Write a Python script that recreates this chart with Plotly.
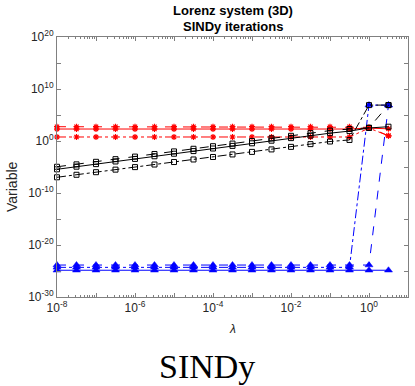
import plotly.graph_objects as go

# regularisation parameter lambda (x axis)
lam = [1e-8, 3.16e-8, 1e-7, 3.16e-7, 1e-6, 3.16e-6, 1e-5, 3.16e-5, 1e-4,
       3.16e-4, 1e-3, 3.16e-3, 1e-2, 3.16e-2, 1e-1, 3.16e-1, 1.0, 3.16]

# red series (asterisks)
red_dash = [560, 560, 560, 560, 560, 560, 560, 560, 560,
            560, 560, 560, 560, 560, 560, 560, 430, 10]
red_solid = [200, 200, 200, 200, 200, 200, 200, 200, 200,
             200, 200, 200, 200, 200, 200, 200, 300, 220]
red_dashdot = [5.9, 5.9, 5.9, 5.9, 5.9, 5.9, 5.9, 5.9, 5.9,
               5.9, 5.9, 5.9, 5.9, 5.9, 5.9, 5.9, 300, 10]

# black series (squares)
blk_dash = [1.1e-5, 3.2e-5, 1e-4, 3.2e-4, 1e-3, 3.2e-3, 1e-2, 3.2e-2, 0.1,
            0.32, 1.0, 3.2, 10, 32, 100, 200, 360, 8e6]
blk_solid = [3.6e-6, 1.15e-5, 3.6e-5, 1.15e-4, 3.6e-4, 1.15e-3, 3.6e-3, 1.15e-2, 3.6e-2,
             0.115, 0.36, 1.15, 3.6, 11, 32, 80, 320, 560]
blk_dashdot = [1.05e-7, 3.2e-7, 1e-6, 3.1e-6, 9.5e-6, 3e-5, 9e-5, 2.8e-4, 8.5e-4,
               2.6e-3, 8e-3, 2.4e-2, 7.5e-2, 0.25, 0.8, 1.6, 8e6, 8e6]

# blue series (triangles)
blu_dash = [1.4e-24, 1.4e-24, 1.4e-24, 1.4e-24, 1.4e-24, 1.4e-24, 1.4e-24, 1.4e-24, 1.4e-24,
            1.4e-24, 1.4e-24, 1.4e-24, 1.4e-24, 1.4e-24, 1.4e-24, 1.4e-24, 1.4e-24, 8e6]
blu_dashdot = [5e-25, 5e-25, 5e-25, 5e-25, 5e-25, 5e-25, 5e-25, 5e-25, 5e-25,
               5e-25, 5e-25, 5e-25, 5e-25, 5e-25, 5e-25, 5e-25, 8e6, 8e6]
blu_solid = [1.4e-25, 1.4e-25, 1.4e-25, 1.4e-25, 1.4e-25, 1.4e-25, 1.4e-25, 1.4e-25, 1.4e-25,
             1.4e-25, 1.4e-25, 1.4e-25, 1.4e-25, 1.4e-25, 1.4e-25, 1.4e-25, 1.4e-25, 1.4e-25]

x_exps = list(range(-8, 2))
y_exps = list(range(-30, 21, 5))

RED, BLK, BLU = "#ff0000", "#000000", "#0000ff"
AX = "#808080"
TXT = "#262626"
FONT = "Liberation Sans"

fig = go.Figure()

def add(y, color, dash, symbol, size, mlw):
    fig.add_trace(go.Scatter(
        x=lam, y=y, mode="lines+markers",
        line=dict(color=color, width=1, dash=dash),
        marker=dict(symbol=symbol, size=size, color=color,
                    line=dict(color=color, width=mlw)),
        showlegend=False, cliponaxis=False))

add(red_dash, RED, "dash", "asterisk-open", 5, 1.2)
add(red_solid, RED, "solid", "asterisk-open", 5, 1.2)
add(red_dashdot, RED, "dashdot", "asterisk-open", 5, 1.2)
add(blu_dash, BLU, "dash", "triangle-up", 7, 0.5)
add(blu_solid, BLU, "solid", "triangle-up", 7, 0.5)
add(blu_dashdot, BLU, "dashdot", "triangle-up", 7, 0.5)
add(blk_dash, BLK, "dash", "square-open", 5, 1)
add(blk_solid, BLK, "solid", "square-open", 5, 1)
add(blk_dashdot, BLK, "dashdot", "square-open", 5, 1)

x_minor = [m * 10.0 ** e for e in range(-8, 1) for m in range(2, 10)]

fig.update_layout(
    width=415, height=386,
    margin=dict(l=57, r=7, t=37, b=89),
    paper_bgcolor="white", plot_bgcolor="white",
    font=dict(family=FONT, size=12, color=TXT),
    xaxis=dict(type="log", range=[-8, 1], automargin=False,
               tickmode="array",
               tickvals=[10.0 ** e for e in x_exps],
               ticktext=[("10<sup>%d</sup>" % e) if e % 2 == 0 and e <= 0 else "" for e in x_exps],
               ticks="inside", ticklen=4, tickcolor=AX,
               showline=True, linecolor=AX, linewidth=1, mirror="ticks",
               showgrid=False, zeroline=False,
               minor=dict(tickmode="array", tickvals=x_minor, ticks="inside",
                          ticklen=2, tickcolor=AX, showgrid=False),
               tickfont=dict(family=FONT, size=12, color=TXT)),
    yaxis=dict(type="log", range=[-30, 20], automargin=False,
               tickmode="array",
               tickvals=[10.0 ** e for e in y_exps],
               ticktext=[("10<sup>%d</sup>" % e) if e % 10 == 0 else "" for e in y_exps],
               ticks="inside", ticklen=4, tickcolor=AX,
               showline=True, linecolor=AX, linewidth=1, mirror="ticks",
               showgrid=False, zeroline=False,
               tickfont=dict(family=FONT, size=12, color=TXT)),
)

# positions in pixels converted to paper fractions (plot area 57..408 x 37..297)
def px_x(px):
    return (px - 57) / 351.0

def px_y(py):
    return (297 - py) / 260.0

fig.add_annotation(text="<b>Lorenz system (3D)</b>", xref="paper", yref="paper",
                   x=0.5, y=px_y(11), xanchor="center", yanchor="middle",
                   showarrow=False, font=dict(family=FONT, size=13, color="#000000"))
fig.add_annotation(text="<b>SINDy iterations</b>", xref="paper", yref="paper",
                   x=0.5, y=px_y(27), xanchor="center", yanchor="middle",
                   showarrow=False, font=dict(family=FONT, size=13, color="#000000"))
fig.add_annotation(text="<i>λ</i>", xref="paper", yref="paper",
                   x=0.5, y=px_y(329), xanchor="center", yanchor="middle",
                   showarrow=False, font=dict(family=FONT, size=12, color=TXT))
fig.add_annotation(text="Variable", xref="paper", yref="paper",
                   x=px_x(12), y=px_y(187), xanchor="center", yanchor="middle",
                   textangle=-90, showarrow=False,
                   font=dict(family=FONT, size=14, color=TXT))
fig.add_annotation(text="SINDy", xref="paper", yref="paper",
                   x=px_x(207), y=px_y(366), xanchor="center", yanchor="middle",
                   showarrow=False,
                   font=dict(family="Liberation Serif", size=34, color="#000000"))

fig.write_html("out.html", config={"responsive": False, "displayModeBar": False},
               post_script="document.body.style.margin='0';document.body.style.overflow='hidden';")
